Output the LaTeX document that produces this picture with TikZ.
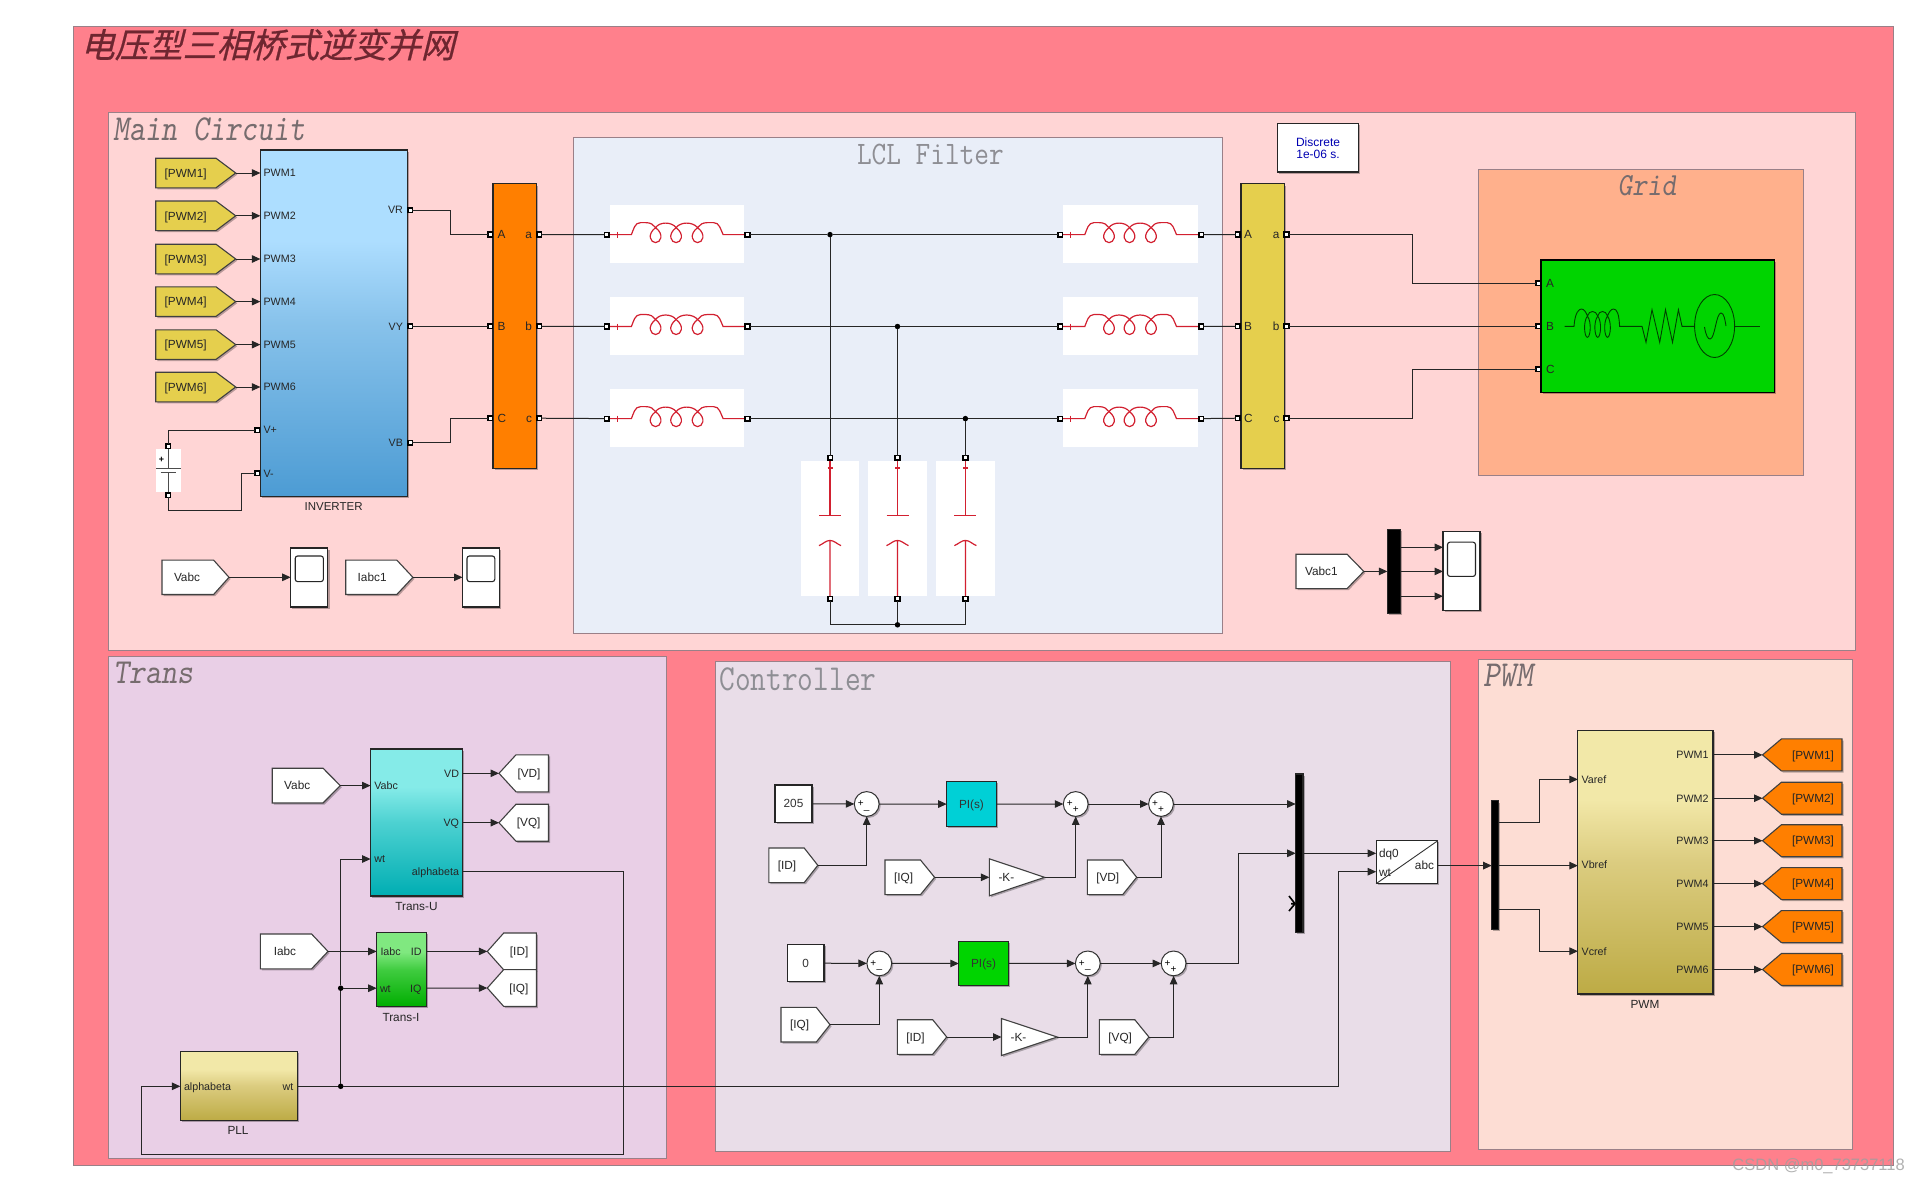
\documentclass[tikz,border=0pt]{standalone}
\usepackage{graphicx}
\usepackage{fontspec}
\setmainfont{Liberation Sans}
\newfontfamily\titlecjk[FakeSlant=0.25,FakeBold=0.6]{Noto Sans CJK SC}
\usetikzlibrary{arrows.meta,shadows,shapes.geometric}

% Palette
\definecolor{outerbg}{HTML}{FF808C}
\definecolor{mainbg}{HTML}{FFD5D5}
\definecolor{lclbg}{HTML}{E9EEF8}
\definecolor{gridbg}{HTML}{FFB08C}
\definecolor{transbg}{HTML}{E9CFE6}
\definecolor{ctrlbg}{HTML}{E9DDE8}
\definecolor{pwmbg}{HTML}{FDDDD4}
\definecolor{regionline}{HTML}{9A8088}
\definecolor{orangeblk}{HTML}{FF7F00}
\definecolor{yellowblk}{HTML}{E5CF4D}
\definecolor{greenblk}{HTML}{00D400}
\definecolor{cyanblk}{HTML}{00D0D6}
\definecolor{wirec}{HTML}{262626}
\definecolor{coilred}{HTML}{D22030}
\definecolor{headtxt}{HTML}{766C6E}
\definecolor{headlight}{HTML}{8E8E94}
\definecolor{titletxt}{HTML}{6E2630}

% Block gradients: flat light top, darkening towards the bottom
\pgfdeclareverticalshading{invshade}{100bp}{rgb(0bp)=(0.30,0.61,0.83); rgb(25bp)=(0.30,0.61,0.83); rgb(50bp)=(0.53,0.76,0.92); rgb(62bp)=(0.68,0.87,1); rgb(100bp)=(0.68,0.87,1)}
\pgfdeclareverticalshading{tushade}{100bp}{rgb(0bp)=(0,0.68,0.70); rgb(25bp)=(0,0.68,0.70); rgb(50bp)=(0.30,0.82,0.82); rgb(62bp)=(0.52,0.92,0.91); rgb(100bp)=(0.52,0.92,0.91)}
\pgfdeclareverticalshading{tishade}{100bp}{rgb(0bp)=(0,0.68,0); rgb(25bp)=(0,0.68,0); rgb(50bp)=(0.25,0.80,0.25); rgb(62bp)=(0.50,0.91,0.50); rgb(100bp)=(0.50,0.91,0.50)}
\pgfdeclareverticalshading{khakishade}{100bp}{rgb(0bp)=(0.74,0.67,0.27); rgb(25bp)=(0.74,0.67,0.27); rgb(50bp)=(0.86,0.80,0.50); rgb(62bp)=(0.95,0.91,0.66); rgb(100bp)=(0.95,0.91,0.66)}

\tikzset{
  softshadow/.style={drop shadow={shadow xshift=1.6pt,shadow yshift=-1.6pt,fill=black,opacity=.28}},
  region/.style={draw=regionline,line width=1pt,inner sep=0pt,outer sep=0pt},
  blockbox/.style={draw=black!85,line width=1.1pt,inner sep=0pt,outer sep=0pt,softshadow,font=\fontsize{11.8}{13}\selectfont,text=black!80},
  ctext/.style={text height=8.5pt,text depth=0pt},
  tagline/.style={draw=black!75,line width=1.1pt,softshadow},
  whitebox/.style={fill=white,inner sep=0pt,outer sep=0pt},
  lbl/.style={inner sep=0pt,outer sep=0pt,font=\fontsize{10.7}{12}\selectfont,text=black!85,text height=7.7pt,text depth=0pt},
  bigl/.style={inner sep=0pt,outer sep=0pt,font=\fontsize{11.8}{13}\selectfont,text=black!85,text height=8.5pt,text depth=0pt},
  wire/.style={draw=wirec,line width=1pt},
  arr/.style={wire,-{Triangle[length=8.5pt,width=7.5pt]}},
  sq/.style={draw=black,fill=white,line width=1.6pt,minimum size=4.6pt,inner sep=0pt,outer sep=0pt},
  dot/.style={circle,fill=black,minimum size=5.5pt,inner sep=0pt,outer sep=0pt},
  coil/.style={draw=coilred,line width=1.2pt},
  gridsym/.style={draw=black!75!green,line width=.9pt},
  heading/.style={inner sep=0pt,outer sep=0pt,text=headtxt,font=\fontsize{30.5}{32}\ttfamily\addfontfeatures{FakeBold=0.4}},
  headingthin/.style={inner sep=0pt,outer sep=0pt,text=headlight,font=\fontsize{30.5}{32}\ttfamily},
  sumblk/.style={circle,draw=black!80,fill=white,line width=1pt,minimum size=24.8pt,inner sep=0pt,outer sep=0pt,softshadow},
  sumsign/.style={inner sep=0pt,outer sep=0pt,font=\fontsize{10}{10}\selectfont},
}

\newcommand{\tagpad}{9}
% Rectangular block given by its corners
\newcommand{\blk}[7]{%
  \pgfmathsetmacro\blkw{#4-#2}\pgfmathsetmacro\blkh{#5-#3}%
  \node[#6,anchor=north west,minimum width=\blkw pt,minimum height=\blkh pt] (#1) at (#2,#3) {#7};}
% Pentagon tag pointing right; its tip is the coordinate <name>-t
\newcommand{\tagR}[8]{%
  \draw[tagline,fill=#7] (#2,#5-#6) -- (#3,#5-#6) -- (#4,#5) -- (#3,#5+#6) -- (#2,#5+#6) -- cycle;
  \pgfmathsetmacro\tagtx{#2+\tagpad}%
  \node[bigl,anchor=west] (#1) at (\tagtx,#5) {#8};
  \coordinate (#1-t) at (#4,#5);}
% Pentagon tag pointing left; its tip is the coordinate <name>-t
\newcommand{\tagL}[8]{%
  \draw[tagline,fill=#7] (#2,#5-#6) -- (#3,#5-#6) -- (#4,#5) -- (#3,#5+#6) -- (#2,#5+#6) -- cycle;
  \pgfmathsetmacro\tagtx{#2-8}%
  \node[bigl,anchor=east] (#1) at (\tagtx,#5) {#8};
  \coordinate (#1-t) at (#4,#5);}
% Gain triangle with coordinates <name>-i and <name>-o
\newcommand{\gainb}[5]{%
  \draw[tagline,fill=white] (#2,#4-#5) -- (#3,#4) -- (#2,#4+#5) -- cycle;
  \pgfmathsetmacro\gaintx{#2+17}%
  \node[bigl] (#1) at (\gaintx,#4) {-K-};
  \coordinate (#1-i) at (#2,#4);
  \coordinate (#1-o) at (#3,#4);}
% Sum circle with its two signs
\newcommand{\sumb}[5]{%
  \node[sumblk] (#1) at (#2,#3) {};
  \node[sumsign] (#1-a) at (#2-6,#3) {#4};
  \node[sumsign] (#1-b) at (#2,#3+6) {#5};}
% Scope with its rounded screen
\newcommand{\scopeblk}[5]{%
  \pgfmathsetmacro\scw{#4-#2-9}\pgfmathsetmacro\sch{(#5-#3)*0.435}\pgfmathsetmacro\scy{#3+(#5-#3)*0.135}\pgfmathsetmacro\scx{#2+4.5}%
  \blk{#1}{#2}{#3}{#4}{#5}{blockbox,fill=white}{}
  \node[draw=black!85,line width=1.1pt,rounded corners=2.5pt,inner sep=0pt,outer sep=0pt,anchor=north west,minimum width=\scw pt,minimum height=\sch pt] (#1-s) at (\scx,\scy) {};}
% Inductor symbol: white panel and red winding, origin at the panel's left edge on the wire
\newcommand{\inductor}[3]{%
  \pgfmathsetmacro\indxr{#2+134.8}\pgfmathsetmacro\indyt{#3-29.7}\pgfmathsetmacro\indyb{#3+28.8}%
  \blk{#1}{#2}{\indyt}{\indxr}{\indyb}{whitebox}{}
  \begin{scope}[shift={(#2,#3)}]
    \path[coil] (0,0) -- (21.8,0) .. controls (24,-5) and (25,-12) .. (31,-12) -- (36,-12) .. controls (41,-12) and (44,-10) .. (46,-7)
      .. controls (50,-13) and (62,-13) .. (66.5,-7) .. controls (71,-13) and (83,-13) .. (88,-7)
      .. controls (90,-10) and (93,-12) .. (98,-12) -- (104,-12) .. controls (110,-12) and (111,-5) .. (113.5,0) -- (134.8,0);
    \foreach \cx in {46,66.5,88} {
      \path[coil] (\cx,-7) .. controls (\cx-9,0) and (\cx-5,8) .. (\cx,8) .. controls (\cx+5,8) and (\cx+9,0) .. (\cx,-7);
    }
    \path[coil] (4.5,0) -- (10.5,0) (7.5,-3) -- (7.5,3);
  \end{scope}}
% Capacitor symbol: white panel and red plates
\newcommand{\capac}[3]{%
  \pgfmathsetmacro\capl{#2-29.3}\pgfmathsetmacro\capr{#2+29.3}%
  \blk{#1}{\capl}{461}{\capr}{596}{whitebox}{}
  \begin{scope}[shift={(#2,0)}]
    \path[coil] (0,461) -- (0,515.3) (-11,515.3) -- (11,515.3);
    \path[coil] (-2.5,468) -- (2.5,468);
    \path[coil] (0,596) -- (0,540.4) (-11,545.6) .. controls (-7,544) and (-4,540.4) .. (0,540.4) .. controls (4,540.4) and (7,544) .. (11,545.6);
  \end{scope}}

\begin{document}
\begin{tikzpicture}[x=1pt,y=-1pt]
\useasboundingbox (0,0) rectangle (1920,1184);
\fill[white] (0,0) rectangle (1920,1184);

% ---- Background regions ----
\blk{outer}{73.6}{26.3}{1893}{1165}{region,fill=outerbg}{}
\blk{mainr}{108}{112}{1855}{650}{region,fill=mainbg}{}
\blk{lclr}{573}{137}{1222.5}{633.8}{region,fill=lclbg}{}
\blk{gridr}{1478.5}{169.2}{1803.5}{475.7}{region,fill=gridbg}{}
\blk{transr}{108.4}{656}{666.4}{1158.5}{region,fill=transbg}{}
\blk{ctrlr}{715.5}{661}{1450.3}{1151}{region,fill=ctrlbg}{}
\blk{pwmr}{1478.7}{659.5}{1852.8}{1149.7}{region,fill=pwmbg}{}

\node[inner sep=0pt,anchor=west,text=titletxt,font=\titlecjk\fontsize{34}{36}\selectfont] (title) at (80.5,44.7) {电压型三相桥式逆变并网};
\node[heading,anchor=west] (hmain) at (113,129) {\slshape\scalebox{1}[1.2]{Main Circuit}};
\node[headingthin,font=\fontsize{28.5}{30}\ttfamily] (hlcl) at (930.4,154.8) {\scalebox{1}[1.15]{LCL Filter}};
\node[heading,font=\fontsize{28}{30}\ttfamily\addfontfeatures{FakeBold=0.4}] (hgrid) at (1647,185.8) {\slshape\scalebox{1}[1.15]{Grid}};
\node[heading,anchor=west] (htrans) at (113,673) {\slshape\scalebox{1}[1.15]{Trans}};
\node[headingthin,anchor=west] (hctrl) at (719.4,679) {\scalebox{1}[1.2]{Controller}};
\node[heading,anchor=west] (hpwm) at (1483,675.5) {\slshape\scalebox{1.05}[1.2]{PWM}};

% ---- Inverter and PWM tags ----
\blk{inv}{260.4}{150}{407.5}{496.5}{blockbox,shading=invshade}{}
\node[lbl,font=\fontsize{11.5}{13}\selectfont] (invname) at (333.6,507) {INVERTER};
\foreach \i/\yy in {1/173,2/215.8,3/259,4/301.6,5/344.6,6/387} {
  \tagR{gp\i}{155.7}{216}{235.7}{\yy}{14.8}{yellowblk}{[PWM\i]}
  \coordinate (inv-p\i) at (260.4,\yy);
  \node[lbl,anchor=west] (invl\i) at (263.6,\yy) {PWM\i};
  \draw[arr] (gp\i-t) -- (inv-p\i);
}
\node[lbl,anchor=west] (lvp) at (263.6,430) {V+};
\node[lbl,anchor=west] (lvm) at (263.6,473.3) {V-};
\node[lbl,anchor=east] (lvr) at (402.9,210) {VR};
\node[lbl,anchor=east] (lvy) at (402.9,326.3) {VY};
\node[lbl,anchor=east] (lvb) at (402.9,442.7) {VB};
\node[sq] (pvp) at (257,430) {};
\node[sq] (pvm) at (257,473.3) {};
\node[sq] (pvr) at (410,210) {};
\node[sq] (pvy) at (410,326.3) {};
\node[sq] (pvb) at (410,442.7) {};

% DC source
\blk{batt}{156.4}{449}{180.7}{491.6}{whitebox}{}
\node[sq] (bt) at (168.2,446) {};
\node[sq] (bb) at (168.2,495) {};
\draw[draw=black!70,line width=1pt] (168.2,449) -- (168.2,468) (156.4,468) -- (180.7,468) (160.5,472.4) -- (176,472.4) (168.2,472.4) -- (168.2,491.6);
\node[sumsign,font=\bfseries\fontsize{9}{9}\selectfont] (bplus) at (161.5,460) {+};
\draw[wire] (bt) |- (pvp);
\draw[wire] (bb) |- (241.8,510) -- (241.8,473.3) -- (pvm);

% ---- Measurement blocks and scopes of the power stage ----
\renewcommand{\tagpad}{12}
\tagR{mv}{162}{213.6}{229}{577.3}{17.2}{white}{Vabc}
\scopeblk{sc1}{290.7}{548}{327.9}{607}
\draw[arr] (mv-t) -- (290.7,577.3);
\tagR{mi}{345.7}{396.8}{412.9}{577.3}{17.2}{white}{Iabc1}
\scopeblk{sc2}{462.5}{548}{499.3}{607}
\draw[arr] (mi-t) -- (462.5,577.3);

% ---- Three-phase meter blocks ----
\blk{meas1}{493}{183.9}{536.4}{468.4}{blockbox,fill=orangeblk}{}
\blk{meas2}{1241}{183.9}{1284.3}{468.4}{blockbox,fill=yellowblk}{}
\foreach \n/\U/\u/\yy in {1/A/a/234.5,2/B/b/326.3,3/C/c/418.2} {
  \node[sq] (oi\n) at (490,\yy) {};
  \node[sq] (oo\n) at (539,\yy) {};
  \node[sq] (yi\n) at (1237.9,\yy) {};
  \node[sq] (yo\n) at (1286.5,\yy) {};
  \node[bigl,anchor=west] (oli\n) at (497.5,\yy) {\U};
  \node[bigl,anchor=east] (olo\n) at (532,\yy) {\u};
  \node[bigl,anchor=west] (yli\n) at (1244,\yy) {\U};
  \node[bigl,anchor=east] (ylo\n) at (1279.4,\yy) {\u};
}
\draw[wire] (pvr) -| (450.7,234.5) -- (oi1);
\draw[wire] (pvy) -- (oi2);
\draw[wire] (pvb) -| (450.7,418.2) -- (oi3);

% ---- LCL filter ----
\inductor{l1}{609.6}{234.6}
\inductor{l2}{609.6}{326.5}
\inductor{l3}{609.6}{418.6}
\inductor{r1}{1063}{234.6}
\inductor{r2}{1063}{326.5}
\inductor{r3}{1063}{418.6}
\capac{c1}{830}{0}
\capac{c2}{897.5}{0}
\capac{c3}{965.4}{0}
\foreach \n/\yy/\jx in {1/234.6/830,2/326.5/897.5,3/418.6/965.4} {
  \node[sq] (ll\n) at (606.9,\yy) {};
  \node[sq] (lr\n) at (747.5,\yy) {};
  \node[sq] (rl\n) at (1060,\yy) {};
  \node[sq] (rr\n) at (1201,\yy) {};
  \node[dot] (j\n) at (\jx,\yy) {};
  \node[sq] (ct\n) at (\jx,457.8) {};
  \node[sq] (cb\n) at (\jx,598.6) {};
  \draw[wire] (oo\n) -- (ll\n);
  \draw[wire] (lr\n) -- (j\n) -- (rl\n);
  \draw[wire] (rr\n) -- (yi\n);
  \draw[wire] (j\n) -- (ct\n);
}
\node[dot] (jb) at (897.5,624.8) {};
\draw[wire] (cb1) |- (jb);
\draw[wire] (jb) -- (cb2);
\draw[wire] (jb) -| (cb3);

% ---- Grid source ----
\blk{src}{1541}{260}{1774.5}{392.4}{blockbox,draw=black,fill=greenblk}{}
\foreach \n/\U/\yy in {1/A/283,2/B/326.3,3/C/369} {
  \node[sq] (gs\n) at (1538,\yy) {};
  \node[bigl,anchor=west] (gl\n) at (1546,\yy) {\U};
}
\draw[wire] (yo1) -| (1412.4,283) -- (gs1);
\draw[wire] (yo2) -- (gs2);
\draw[wire] (yo3) -| (1412.4,369) -- (gs3);
\path[gridsym] (1564.6,326.3) -- (1574,326.3) .. controls (1575,312) and (1579,309) .. (1581.5,309) .. controls (1584,309) and (1586,312) .. (1587.4,316)
  .. controls (1589,310) and (1596,310) .. (1597.7,316) .. controls (1599,310) and (1606,310) .. (1607.5,316) .. controls (1609,312) and (1611,309) .. (1613.5,309)
  .. controls (1617,309) and (1619,314) .. (1619.6,326.3) -- (1642,326.3) -- (1646,342.4) -- (1652,309.7) -- (1659.7,342.4) -- (1665.5,309.7) -- (1672.5,342.4) -- (1678.4,309.7) -- (1682,326.3) -- (1694.6,326.3);
\foreach \cx in {1587.4,1597.7,1607.5} {
  \path[gridsym] (\cx,316) .. controls (\cx-4.5,322) and (\cx-3,337.3) .. (\cx,337.3) .. controls (\cx+3,337.3) and (\cx+4.5,322) .. (\cx,316);
}
\path[gridsym] (1714.6,326) ellipse [x radius=20,y radius=31.5];
\path[gridsym] (1704.5,327) .. controls (1706,336) and (1708,339) .. (1710,339) .. controls (1715,339) and (1716,313) .. (1721,313) .. controls (1724,313) and (1725,320) .. (1726,326);
\path[gridsym] (1734.6,326.3) -- (1760,326.3);

% Solver settings
\node[blockbox,fill=white,anchor=north west,minimum width=80.8pt,minimum height=48.2pt,align=center,text=blue!70!black,font=\fontsize{12}{12}\selectfont] (solver) at (1277.6,123.8) {Discrete\\1e-06 s.};

% Grid-side measurement
\renewcommand{\tagpad}{9}
\tagR{mv1}{1296}{1347}{1363.8}{571.4}{17.2}{white}{Vabc1}
\blk{mx0}{1387.4}{529.4}{1400.8}{613.4}{blockbox,fill=black}{}
\scopeblk{sc3}{1443}{531.5}{1480}{610.3}
\draw[arr] (mv1-t) -- (1387.4,571.4);
\draw[arr] (1400.8,547.3) -- (1443,547.3);
\draw[arr] (1400.8,571.4) -- (1443,571.4);
\draw[arr] (1400.8,596.2) -- (1443,596.2);

% ---- Coordinate transforms ----
\blk{tu}{370.6}{749}{462.8}{896}{blockbox,shading=tushade}{}
\node[bigl] (tuname) at (416.5,906) {Trans-U};
\node[lbl,anchor=west] (tul1) at (374.4,785.6) {Vabc};
\node[lbl,anchor=west] (tul2) at (374.4,859) {wt};
\node[lbl,anchor=east] (tul3) at (459,773.3) {VD};
\node[lbl,anchor=east] (tul4) at (459,822.7) {VQ};
\node[lbl,anchor=east] (tul5) at (459,871.7) {alphabeta};
\coordinate (tu-v) at (370.6,785.6);
\coordinate (tu-w) at (370.6,859);
\coordinate (tu-d) at (462.8,773.3);
\coordinate (tu-q) at (462.8,822.7);
\coordinate (tu-ab) at (462.8,871.7);
\renewcommand{\tagpad}{12}
\tagR{tv}{272.2}{323}{340.3}{785.6}{17.4}{white}{Vabc}
\tagL{tvd}{548.5}{516}{499}{773.3}{18.5}{white}{[VD]}
\tagL{tvq}{548.5}{516}{499}{822.7}{18.5}{white}{[VQ]}
\draw[arr] (tv-t) -- (tu-v);
\draw[arr] (tu-d) -- (tvd-t);
\draw[arr] (tu-q) -- (tvq-t);

\blk{ti}{376.7}{932.7}{426.4}{1006.6}{blockbox,shading=tishade}{}
\node[bigl] (tiname) at (401,1017) {Trans-I};
\node[lbl,anchor=west] (til1) at (380.5,951.4) {Iabc};
\node[lbl,anchor=west] (til2) at (380,988.2) {wt};
\node[lbl,anchor=east] (til3) at (421.5,951.4) {ID};
\node[lbl,anchor=east] (til4) at (421.5,988.2) {IQ};
\coordinate (ti-i) at (376.7,951.4);
\coordinate (ti-w) at (376.7,988.2);
\coordinate (ti-d) at (426.4,951.4);
\coordinate (ti-q) at (426.4,988.2);
\renewcommand{\tagpad}{13.5}
\tagR{tc}{260.3}{311.6}{328}{951.4}{17.4}{white}{Iabc}
\renewcommand{\tagpad}{9}
\tagL{tid}{536.3}{503.7}{487.3}{951.4}{18.4}{white}{[ID]}
\tagL{tiq}{536.3}{503.7}{487.3}{988}{18.4}{white}{[IQ]}
\draw[arr] (tc-t) -- (ti-i);
\draw[arr] (ti-d) -- (tid-t);
\draw[arr] (ti-q) -- (tiq-t);

\blk{pll}{180.4}{1051.2}{297.5}{1120.4}{blockbox,shading=khakishade}{}
\node[bigl] (pllname) at (238,1130.6) {PLL};
\node[lbl,anchor=west] (plll1) at (184,1086.3) {alphabeta};
\node[lbl,anchor=east] (plll2) at (293.3,1086.3) {wt};
\coordinate (pll-a) at (180.4,1086.3);
\coordinate (pll-o) at (297.5,1086.3);
\node[dot] (jw) at (340.7,1086.3) {};
\node[dot] (ji) at (340.7,988.2) {};
\draw[wire] (pll-o) -- (jw);
\draw[wire] (jw) -- (ji);
\draw[arr] (ji) -- (ti-w);
\draw[arr] (ji) |- (tu-w);
\draw[arr] (tu-ab) -- (623,871.7) -- (623,1154) -- (141.3,1154) |- (pll-a);

% ---- Current controllers ----
\blk{k205}{775}{785}{812}{822.3}{blockbox,ctext,fill=white}{205}
\sumb{s11}{866.7}{804}{+}{\raisebox{2pt}{\_}}
\blk{pi1}{946.7}{781.8}{996.2}{826.4}{blockbox,ctext,fill=cyanblk}{PI(s)}
\sumb{s12}{1075.7}{804}{+}{+}
\sumb{s13}{1161}{804}{+}{+}
\tagR{cid}{768.8}{804.2}{817.8}{865.3}{17.3}{white}{[ID]}
\tagR{ciq}{885}{920.5}{934.6}{877.3}{17.3}{white}{[IQ]}
\gainb{g1}{989.4}{1044.6}{877.3}{18.5}
\tagR{cvd}{1087.3}{1122.7}{1136.7}{877.3}{17.3}{white}{[VD]}
\draw[arr] (k205) -- (s11);
\draw[arr] (s11) -- (pi1);
\draw[arr] (pi1) -- (s12);
\draw[arr] (s12) -- (s13);
\draw[arr] (cid-t) -| (s11);
\draw[arr] (ciq-t) -- (g1-i);
\draw[arr] (g1-o) -| (s12);
\draw[arr] (cvd-t) -| (s13);

\blk{k0}{787.3}{944.6}{824}{981.7}{blockbox,ctext,fill=white}{0}
\sumb{s21}{879.3}{963.4}{+}{\raisebox{2pt}{\_}}
\blk{pi2}{958.8}{941.2}{1008.3}{985.8}{blockbox,ctext,fill=greenblk}{PI(s)}
\sumb{s22}{1087.8}{963.4}{+}{\raisebox{2pt}{\_}}
\sumb{s23}{1173.6}{963.4}{+}{+}
\tagR{diq}{781}{816.3}{830}{1024.7}{17.3}{white}{[IQ]}
\tagR{did}{897.3}{932.7}{946.7}{1037}{17.3}{white}{[ID]}
\gainb{g2}{1001.5}{1057.2}{1037}{18.5}
\tagR{dvq}{1099.4}{1134.8}{1148.9}{1037}{17.3}{white}{[VQ]}
\draw[arr] (k0) -- (s21);
\draw[arr] (s21) -- (pi2);
\draw[arr] (pi2) -- (s22);
\draw[arr] (s22) -- (s23);
\draw[arr] (diq-t) -| (s21);
\draw[arr] (did-t) -- (g2-i);
\draw[arr] (g2-o) -| (s22);
\draw[arr] (dvq-t) -| (s23);

% Collector bar and dq0-abc block
\blk{mx1}{1295.7}{774}{1303}{932.4}{blockbox,fill=black}{}
\coordinate (mx1-a) at (1295.7,804);
\coordinate (mx1-b) at (1295.7,853.3);
\coordinate (mx1-o) at (1303,853.3);
\draw[draw=black,line width=1.6pt] (1289,896) -- (1295,903.7) -- (1289,911) (1295,903.7) -- (1291,903.7);
\blk{dq}{1376.2}{840.7}{1437.8}{883.6}{blockbox,fill=white}{}
\draw[draw=black!80,line width=.9pt] (dq.south west) -- (dq.north east);
\node[bigl,anchor=west] (dql1) at (1379,853.3) {dq0};
\node[bigl,anchor=west] (dql2) at (1379,872) {wt};
\node[bigl,anchor=east] (dql3) at (1434,865.6) {abc};
\coordinate (dq-d) at (1376.2,853.3);
\coordinate (dq-w) at (1376.2,871.7);
\coordinate (dq-o) at (1437.8,865.6);
\draw[arr] (s13) -- (mx1-a);
\draw[arr] (s23) -| (1238,853.3) -- (mx1-b);
\draw[arr] (mx1-o) -- (dq-d);
\draw[arr] (jw) -| (1338.9,871.7) -- (dq-w);

% ---- PWM generator ----
\blk{mx2}{1491.7}{800.9}{1498.7}{929.3}{blockbox,fill=black}{}
\coordinate (mx2-i) at (1491.7,865.6);
\coordinate (mx2-a) at (1498.7,822.7);
\coordinate (mx2-b) at (1498.7,865.6);
\coordinate (mx2-c) at (1498.7,909.2);
\blk{pwmb}{1577.9}{730.4}{1713}{994}{blockbox,shading=khakishade}{}
\node[bigl] (pwmname) at (1645,1004.2) {PWM};
\node[lbl,anchor=west] (pwl1) at (1581.6,779.4) {Varef};
\node[lbl,anchor=west] (pwl2) at (1581.6,865) {Vbref};
\node[lbl,anchor=west] (pwl3) at (1581.6,951.2) {Vcref};
\coordinate (pw-a) at (1577.9,779.4);
\coordinate (pw-b) at (1577.9,865.6);
\coordinate (pw-c) at (1577.9,951.2);
\draw[arr] (dq-o) -- (mx2-i);
\draw[arr] (mx2-a) -| (1539,779.4) -- (pw-a);
\draw[arr] (mx2-b) -- (pw-b);
\draw[arr] (mx2-c) -| (1539,951.2) -- (pw-c);
\foreach \i/\yy in {1/754.9,2/798.2,3/840.7,4/883.6,5/926.6,6/969.5} {
  \node[lbl,anchor=east] (pwo\i) at (1708.5,\yy) {PWM\i};
  \coordinate (pw-o\i) at (1713,\yy);
  \tagL{go\i}{1842}{1781.4}{1762.5}{\yy}{16}{orangeblk}{[PWM\i]}
  \draw[arr] (pw-o\i) -- (go\i-t);
}

% Image credit line
\node[inner sep=0pt,anchor=east,text=black!38,opacity=.8,font=\fontsize{16.5}{18}\selectfont] (credit) at (1905,1166) {CSDN @m0\_73737118};
\end{tikzpicture}
\end{document}
